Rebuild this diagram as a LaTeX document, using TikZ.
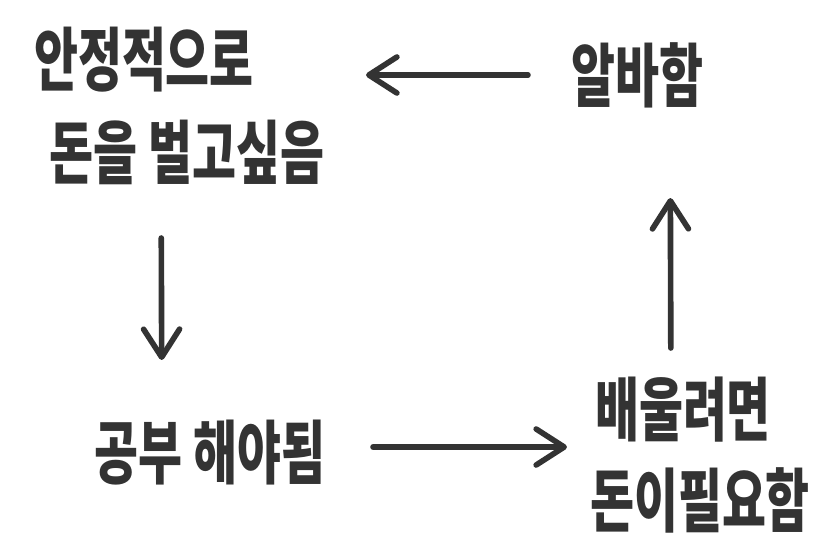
\documentclass[tikz,border=0pt]{standalone}
\usepackage{fontspec}
\newfontfamily\kr{Noto Sans CJK KR}
\usetikzlibrary{arrows.meta}
\definecolor{ink}{HTML}{333333}
\newcommand{\tall}[1]{\scalebox{1}[1.45]{#1}}

\begin{document}
\begin{tikzpicture}[x=0.025cm,y=-0.025cm,
  word/.style={inner sep=0,text=ink,font=\kr\bfseries\fontsize{34}{40}\selectfont},
  flow/.style={draw=ink,line width=4pt,line cap=round,-{Straight Barb[length=7mm,width=9mm,round]}}]
\useasboundingbox (0,0) rectangle (840,559);
\node[word] (goalA) at (144,60) {\tall{안정적으로}};
\node[word] (goalB) at (187,152) {\tall{돈을 벌고싶음}};
\node[word] (alba) at (637,75) {\tall{알바함}};
\node[word] (study) at (210,453) {\tall{공부 해야됨}};
\node[word] (learnA) at (683,410) {\tall{배울려면}};
\node[word] (learnB) at (700,500) {\tall{돈이필요함}};
\draw[flow,shorten <=2.725cm,shorten >=5.55cm] (alba.center) -- (alba.center -| goalA.center);
\draw[flow,shorten <=2.15cm,shorten >=2.325cm] ([xshift=-0.65cm]goalB.center) -- ([xshift=-1.2cm]study.center);
\draw[flow,shorten <=4.075cm,shorten >=2.9cm] ([yshift=0.15cm]study.center) -- ([yshift=0.15cm]study.center -| learnA.center);
\draw[flow,shorten <=1.55cm,shorten >=3.075cm] ([xshift=-0.3cm]learnA.center) -- ([xshift=0.825cm]alba.center);
\end{tikzpicture}
\end{document}
